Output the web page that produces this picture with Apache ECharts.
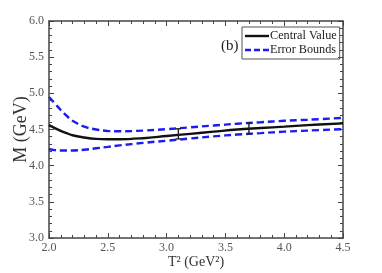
<!DOCTYPE html>
<html><head><meta charset="utf-8">
<script src="https://cdn.jsdelivr.net/npm/echarts@6/dist/echarts.min.js"></script>
<style>html,body{margin:0;padding:0;background:#fff}#c{width:382px;height:273px}</style>
</head><body><div id="c"></div>
<script>
const xTicks = [2.0, 2.5, 3.0, 3.5, 4.0, 4.5];
const yTicks = [3.0, 3.5, 4.0, 4.5, 5.0, 5.5, 6.0];
const T2 = [2.0, 2.05, 2.1, 2.15, 2.2, 2.3, 2.4, 2.5, 2.6, 2.8, 3.0, 3.2, 3.4, 3.6, 3.8, 4.0, 4.2, 4.5];
const central = [4.56, 4.52, 4.48, 4.45, 4.42, 4.39, 4.37, 4.365, 4.365, 4.38, 4.41, 4.44, 4.47, 4.50, 4.52, 4.54, 4.56, 4.585];
const upper = [4.95, 4.86, 4.77, 4.69, 4.62, 4.54, 4.50, 4.48, 4.475, 4.485, 4.505, 4.53, 4.555, 4.58, 4.60, 4.62, 4.635, 4.66];
const lower = [4.23, 4.215, 4.21, 4.21, 4.21, 4.22, 4.24, 4.26, 4.28, 4.315, 4.345, 4.375, 4.405, 4.43, 4.45, 4.47, 4.485, 4.505];
const errX = [3.1, 3.7];
const errLo = [4.37, 4.44];
const errHi = [4.51, 4.59];

const pair = (xs, ys) => xs.map((x, i) => [x, ys[i]]);
const serif = 'Liberation Serif, Times New Roman, serif';
const blue = '#1c1cf2';
const axisCol = '#444';

const baseX = {
  type: 'value', min: 2.0, max: 4.5, interval: 0.5,
  axisLine: { show: true, onZero: false, lineStyle: { color: axisCol, width: 1.5 } },
  axisTick: { show: true, inside: true, length: 5, lineStyle: { color: axisCol } },
  minorTick: { show: true, splitNumber: 5, length: 3, lineStyle: { color: axisCol } },
  splitLine: { show: false }
};
const baseY = {
  type: 'value', min: 3.0, max: 6.0, interval: 0.5,
  axisLine: { show: true, onZero: false, lineStyle: { color: axisCol, width: 1.5 } },
  axisTick: { show: true, inside: true, length: 5, lineStyle: { color: axisCol } },
  minorTick: { show: true, splitNumber: 5, length: 3, lineStyle: { color: axisCol } },
  splitLine: { show: false }
};

const chart = echarts.init(document.getElementById('c'), null, { renderer: 'canvas' });
chart.setOption({
  animation: false,
  backgroundColor: '#fff',
  title: { text: '(b)', left: 216, top: 34, textStyle: { fontFamily: serif, fontSize: 15, fontWeight: 'normal', color: '#222' } },
  grid: { left: 49, right: 39, top: 21, bottom: 35, containLabel: false, outerBoundsMode: 'none' },
  legend: {
    orient: 'vertical', left: 242, top: 27,
    padding: [3, 3, 3, 3], itemGap: 2, itemWidth: 24, itemHeight: 14,
    borderColor: '#555', borderWidth: 1,
    textStyle: { fontFamily: serif, fontSize: 12.2, color: '#222', padding: [0, 0, 0, -4] },
    data: [
      { name: 'Central Value', icon: 'path://M0,0H24V2.4H0Z', itemStyle: { color: '#111' } },
      { name: 'Error Bounds', icon: 'path://M0,0H6V2.4H0Z M9,0H15V2.4H9Z M18,0H24V2.4H18Z', itemStyle: { color: blue } }
    ]
  },
  xAxis: [
    Object.assign({}, baseX, {
      position: 'bottom',
      name: 'T² (GeV²)', nameLocation: 'middle', nameGap: 17, nameMoveOverlap: false,
      nameTextStyle: { fontFamily: serif, fontSize: 14, color: '#333' },
      axisLabel: { fontFamily: serif, fontSize: 12, color: '#555', margin: 4,
        formatter: v => xTicks.includes(+v.toFixed(1)) ? v.toFixed(1) : '' }
    }),
    Object.assign({}, baseX, { position: 'top', axisLabel: { show: false } })
  ],
  yAxis: [
    Object.assign({}, baseY, {
      position: 'left',
      name: 'M (GeV)', nameLocation: 'middle', nameGap: 19, nameMoveOverlap: false,
      nameTextStyle: { fontFamily: serif, fontSize: 18, color: '#333' },
      axisLabel: { fontFamily: serif, fontSize: 12, color: '#555', margin: 5,
        formatter: v => yTicks.includes(+v.toFixed(1)) ? v.toFixed(1) : '' }
    }),
    Object.assign({}, baseY, { position: 'right', axisLabel: { show: false } })
  ],
  series: [
    { name: 'Central Value', type: 'line', data: pair(T2, central), smooth: 0.4, symbol: 'none',
      lineStyle: { color: '#111', width: 2.4 }, itemStyle: { color: '#111' }, z: 3 },
    { name: 'Error Bounds', type: 'line', data: pair(T2, upper), smooth: 0.4, symbol: 'none',
      lineStyle: { color: blue, width: 2.4, type: [7, 4] }, itemStyle: { color: blue } },
    { name: 'Error Bounds', type: 'line', data: pair(T2, lower), smooth: 0.4, symbol: 'none',
      lineStyle: { color: blue, width: 2.4, type: [7, 4] }, itemStyle: { color: blue } },
    { name: 'err', type: 'custom', z: 4,
      data: errX.map((x, i) => [x, errLo[i], errHi[i]]),
      renderItem: (params, api) => {
        const lo = api.coord([api.value(0), api.value(1)]);
        const hi = api.coord([api.value(0), api.value(2)]);
        const w = 2.5;
        const st = { stroke: '#222', lineWidth: 1.4 };
        return { type: 'group', children: [
          { type: 'line', shape: { x1: lo[0], y1: lo[1], x2: hi[0], y2: hi[1] }, style: st },
          { type: 'line', shape: { x1: lo[0] - w, y1: lo[1], x2: lo[0] + w, y2: lo[1] }, style: st },
          { type: 'line', shape: { x1: hi[0] - w, y1: hi[1], x2: hi[0] + w, y2: hi[1] }, style: st }
        ] };
      }
    }
  ]
});
</script></body></html>
